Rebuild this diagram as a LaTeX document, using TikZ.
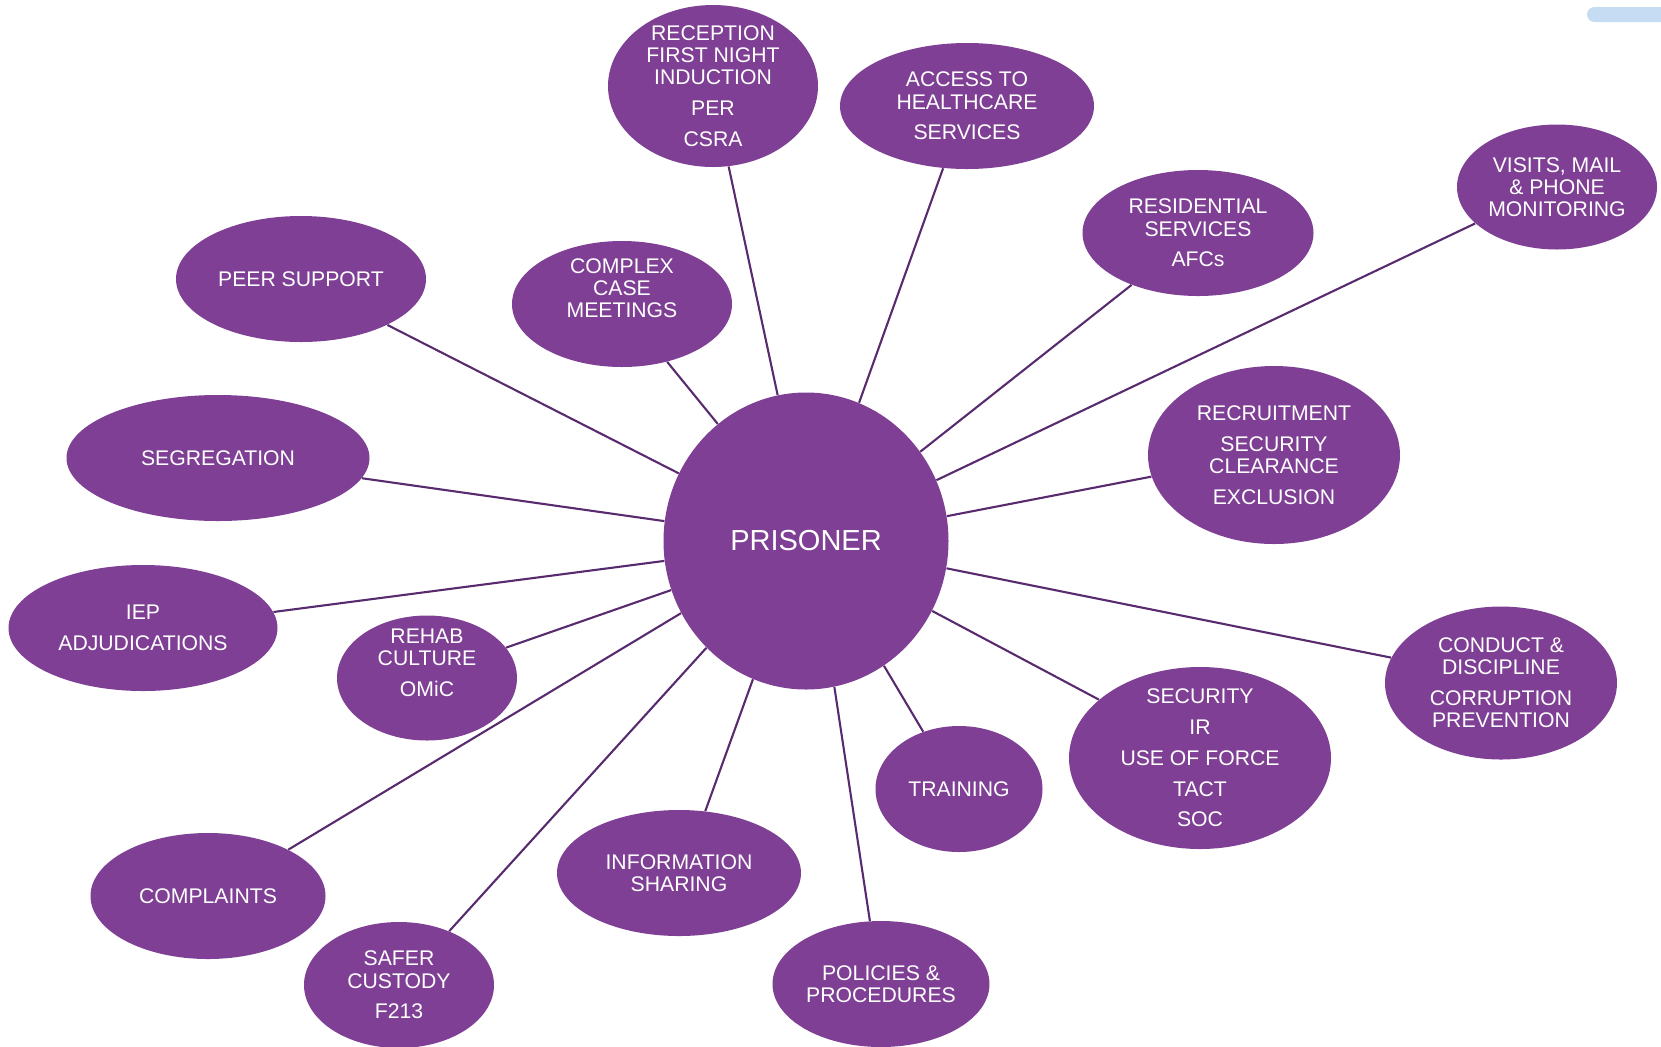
\documentclass[tikz,border=0pt]{standalone}
\usepackage{fontspec}
\setmainfont{Liberation Sans}
\usetikzlibrary{shapes.geometric}
\definecolor{hubpurple}{RGB}{126,63,148}
\definecolor{linkpurple}{RGB}{88,42,110}
\definecolor{tabblue}{RGB}{197,220,242}

\begin{document}
\begin{tikzpicture}[x=0.5pt, y=-0.5pt,
  topic/.style={ellipse, fill=hubpurple, text=white, inner xsep=0pt, inner ysep=-6pt, align=center, font=\fontsize{10.6}{11.1}\selectfont},
  hub/.style={ellipse, fill=hubpurple, text=white, inner sep=0pt, font=\fontsize{14.5}{17}\selectfont},
  link/.style={draw=linkpurple, line width=1.05pt}]
\useasboundingbox (0,0) rectangle (1661,1046);
\fill[tabblue, rounded corners=3.75pt] (1587,7) rectangle (1700,22);

% centre
\node[hub, minimum width=142.5pt, minimum height=148.5pt] (prisoner) at (806,541) {PRISONER};

% surrounding topics
\node[topic, minimum width=105pt, minimum height=81pt] (reception) at (713,86) {RECEPTION\\FIRST NIGHT\\INDUCTION\\[4.3pt]PER\\[4.3pt]CSRA};
\node[topic, minimum width=127pt, minimum height=63pt] (health) at (967,106) {ACCESS TO\\HEALTHCARE\\[4.3pt]SERVICES};
\node[topic, minimum width=100pt, minimum height=62.5pt] (visits) at (1557,187) {VISITS, MAIL\\\& PHONE\\MONITORING};
\node[topic, minimum width=115.5pt, minimum height=63pt] (residential) at (1198,233) {RESIDENTIAL\\SERVICES\\[4.3pt]AFCs};
\node[topic, minimum width=125pt, minimum height=63pt] (peer) at (301,279) {PEER SUPPORT};
\node[topic, minimum width=110pt, minimum height=63pt] (complex) at (622,304) {COMPLEX\\CASE\\MEETINGS\\[4.7pt]~};
\node[topic, minimum width=151.5pt, minimum height=63pt] (segregation) at (218,458) {SEGREGATION};
\node[topic, minimum width=126pt, minimum height=89pt] (recruitment) at (1274,455) {RECRUITMENT\\[4.3pt]SECURITY\\CLEARANCE\\[4.3pt]EXCLUSION};
\node[topic, minimum width=134.5pt, minimum height=63pt] (iep) at (143,628) {IEP\\[4.3pt]ADJUDICATIONS};
\node[topic, minimum width=90pt, minimum height=62.5pt] (rehab) at (427,678) {REHAB\\CULTURE\\[4.3pt]OMiC\\[4.7pt]~};
\node[topic, minimum width=116pt, minimum height=76.5pt] (conduct) at (1501,683) {CONDUCT \&\\DISCIPLINE\\[4.3pt]CORRUPTION\\PREVENTION};
\node[topic, minimum width=131pt, minimum height=91pt] (security) at (1200,758) {SECURITY\\[4.3pt]IR\\[4.3pt]USE OF FORCE\\[4.3pt]TACT\\[4.3pt]SOC};
\node[topic, minimum width=83.5pt, minimum height=63pt] (training) at (959,789) {TRAINING};
\node[topic, minimum width=122pt, minimum height=63pt] (sharing) at (679,873) {INFORMATION\\SHARING};
\node[topic, minimum width=117.5pt, minimum height=63pt] (complaints) at (208,896) {COMPLAINTS};
\node[topic, minimum width=95pt, minimum height=63pt] (safer) at (399,985) {SAFER\\CUSTODY\\[4.3pt]F213};
\node[topic, minimum width=108.5pt, minimum height=63pt] (policies) at (881,984) {POLICIES \&\\PROCEDURES};

% spokes
\draw[link] (prisoner.101.4) -- (reception.281.4);
\draw[link] (prisoner.69.3) -- (health.249.6);
\draw[link] (prisoner.38) -- (residential.218.6);
\draw[link] (prisoner.25.3) -- (visits.204.8);
\draw[link] (prisoner.10.5) -- (recruitment.190.5);
\draw[link] (prisoner.-11.7) -- (conduct.167.9);
\draw[link] (prisoner.-29) -- (security.150.7);
\draw[link] (prisoner.-58.5) -- (training.122);
\draw[link] (prisoner.-79.9) -- (policies.100.2);
\draw[link] (prisoner.249) -- (sharing.67.9);
\draw[link] (prisoner.227.9) -- (safer.47.8);
\draw[link] (prisoner.210.6) -- (complaints.30.9);
\draw[link] (prisoner.200) -- (rehab.21);
\draw[link] (prisoner.188) -- (iep.7.4);
\draw[link] (prisoner.172) -- (segregation.-8.7);
\draw[link] (prisoner.152.5) -- (peer.-28.2);
\draw[link] (prisoner.127.7) -- (complex.-52.3);
\end{tikzpicture}
\end{document}
